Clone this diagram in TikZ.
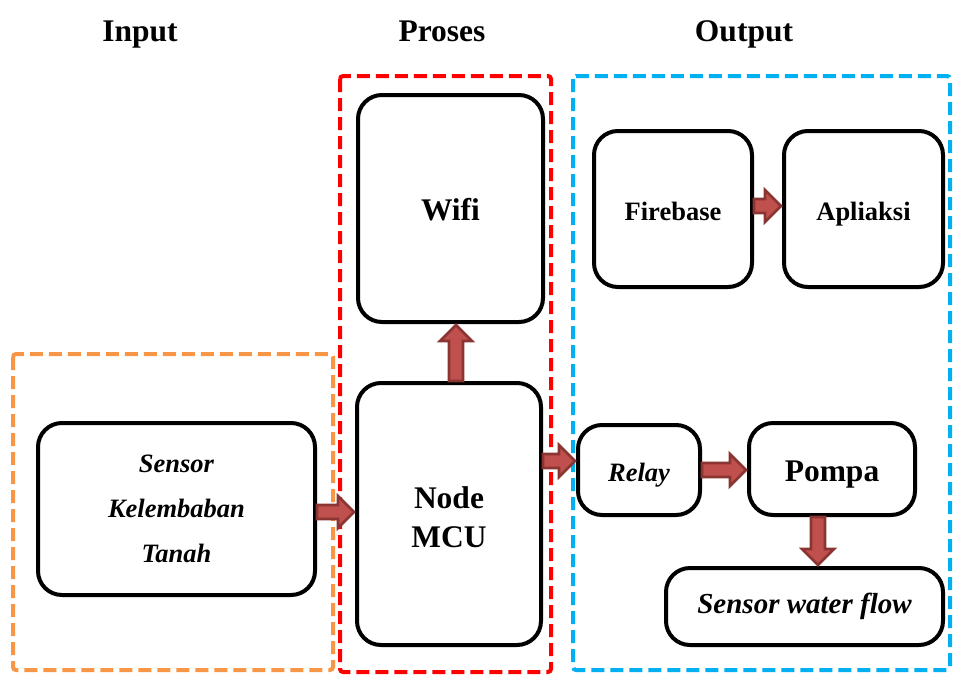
\documentclass[tikz,border=0pt]{standalone}
\usepackage{fontspec}
\setmainfont{Liberation Serif}
\usetikzlibrary{calc}
\definecolor{arrfill}{HTML}{C0504D}
\definecolor{arrline}{HTML}{8B3533}
\definecolor{orangeb}{HTML}{F79646}
\definecolor{redb}{HTML}{FF0000}
\definecolor{blueb}{HTML}{00B0F0}
\begin{document}
\begin{tikzpicture}[x=1pt,y=-1pt,
  box/.style={draw, fill=white, line width=4pt, rounded corners=24pt, align=center, inner sep=0pt},
  bigtxt/.style={font=\fontsize{31.5}{39}\selectfont\bfseries},
  midtxt/.style={font=\fontsize{26.5}{45}\selectfont\bfseries},
  bigone/.style={bigtxt, text height=24pt, text depth=0pt},
  midone/.style={midtxt, text height=22pt, text depth=0pt},
  title/.style={bigtxt, anchor=base},
  grp/.style={line width=4pt, dash pattern=on 13pt off 6pt, rounded corners=3pt},
  barrow/.style={draw=arrline, fill=arrfill, line width=2.6pt, line join=miter, to path={
    let \p1=(\tikztostart), \p2=(\tikztotarget), \n1={atan2(\y2-\y1,\x2-\x1)} in
    ($(\p1)+(\n1+90:7pt)$) -- ($(\p2)+(\n1+180:17pt)+(\n1+90:7pt)$)
    -- ($(\p2)+(\n1+180:17pt)+(\n1+90:16pt)$) -- ($(\p2)+(\n1+180:1pt)$)
    -- ($(\p2)+(\n1+180:17pt)+(\n1-90:16pt)$) -- ($(\p2)+(\n1+180:17pt)+(\n1-90:7pt)$)
    -- ($(\p1)+(\n1-90:7pt)$) -- cycle}}
]
\useasboundingbox (0,0) rectangle (953,675);

% group frames
\draw[grp, draw=orangeb] (13,354) rectangle (333,670);
\draw[grp, draw=redb] (340,76) rectangle (551,672);
\draw[grp, draw=blueb] (573,76) rectangle (950,670);

% titles
\node[title] (tin) at (140,41) {Input};
\node[title] (tpro) at (442,41) {Proses};
\node[title] (tout) at (744,41) {Output};

% boxes
\node[box, midtxt, minimum width=277pt, minimum height=172pt] (sensor) at (176.5,509)
  {\itshape Sensor\\\itshape Kelembaban\\\itshape Tanah};
\node[box, bigone, minimum width=185pt, minimum height=227pt] (wifi) at (450.5,208.5) {Wifi};
\node[box, bigtxt, minimum width=184pt, minimum height=262pt] (mcu) at (449,514) {\rule{0pt}{27.5pt}Node\\MCU};
\node[box, midone, minimum width=158pt, minimum height=156pt] (fire) at (673,209) {Firebase};
\node[box, midone, minimum width=159pt, minimum height=156pt] (apli) at (863.5,209) {Apliaksi};
\node[box, midone, minimum width=122pt, minimum height=90pt] (relay) at (639,470) {\itshape Relay};
\node[box, bigone, minimum width=166pt, minimum height=92pt] (pompa) at (832,469) {Pompa};
\node[box, font=\fontsize{29}{35}\selectfont\bfseries\itshape, minimum width=277pt, minimum height=77pt] (swf) at (804.5,606.5) {Sensor water flow};

% block arrows
\draw[barrow] ([yshift=-3pt]sensor.east) to ([yshift=-3pt]sensor.east -| mcu.west);
\draw[barrow] ([xshift=7pt]mcu.north) to ([xshift=7pt]mcu.north |- wifi.south);
\draw[barrow] ([yshift=9pt]relay.west -| mcu.east) to ([yshift=9pt]relay.west);
\draw[barrow] ([yshift=3pt]fire.east) to ([yshift=3pt]apli.west);
\draw[barrow] (relay.east) to (relay.east -| pompa.west);
\draw[barrow] ([xshift=-14pt]pompa.south) to ([xshift=-14pt]pompa.south |- swf.north);
\end{tikzpicture}
\end{document}
